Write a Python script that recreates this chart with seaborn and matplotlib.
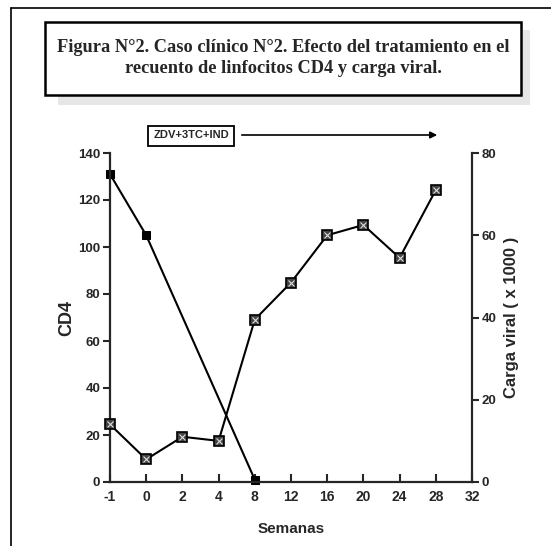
import numpy as np
import pandas as pd
import matplotlib.pyplot as plt
import seaborn as sns
from matplotlib.patches import Rectangle
from matplotlib.lines import Line2D

# datos
semanas = ['-1', '0', '2', '4', '8', '12', '16', '20', '24', '28', '32']
cd4 = [131, 105, np.nan, np.nan, 1, np.nan, np.nan, np.nan, np.nan, np.nan, np.nan]
carga_viral = [14, 5.5, 11, 10, 39.5, 48.5, 60, 62.5, 54.5, 71, np.nan]
cd4_ticks = [0, 20, 40, 60, 80, 100, 120, 140]
cv_ticks = [0, 20, 40, 60, 80]

df = pd.DataFrame({'pos': range(len(semanas)), 'semana': semanas,
                   'cd4': cd4, 'cv': carga_viral})

sns.set_style('ticks')
plt.rcParams['font.family'] = ['Liberation Sans Narrow', 'Liberation Sans', 'DejaVu Sans']
plt.rcParams['font.weight'] = 'bold'

fig = plt.figure(figsize=(5.51, 5.46), dpi=100)
ax = fig.add_axes([110/551, 1-482/546, 362/551, 329/546])
ax2 = ax.twinx()

d1 = df.dropna(subset=['cd4'])
sns.lineplot(data=d1, x='pos', y='cd4', ax=ax, color='black', lw=1.5,
             marker='s', markersize=6, markeredgecolor='black', clip_on=False)
d2 = df.dropna(subset=['cv'])
sns.lineplot(data=d2, x='pos', y='cv', ax=ax2, color='black', lw=1.5,
             marker='s', markersize=7.5, markerfacecolor='#444444',
             markeredgecolor='black', markeredgewidth=1.2, clip_on=False)
ax2.plot(d2['pos'], d2['cv'], ls='none', marker='x', markersize=5,
         color='#dddddd', markeredgewidth=0.8, clip_on=False)

ax.set_xlim(0, len(semanas) - 1)
ax.set_ylim(0, 140)
ax2.set_ylim(0, 80)
ax.set_xticks(range(len(semanas)))
ax.set_xticklabels(semanas)
ax.set_yticks(cd4_ticks)
ax2.set_yticks(cv_ticks)

for a in (ax, ax2):
    a.spines['top'].set_visible(False)
    for s in a.spines.values():
        s.set_linewidth(1.6)
ax.spines['right'].set_visible(False)
ax2.spines['left'].set_visible(False)
ax2.spines['bottom'].set_visible(False)

ax.tick_params(axis='x', direction='in', length=6, width=1.5, labelsize=10, pad=6)
ax.tick_params(axis='y', direction='out', length=5, width=1.5, labelsize=9.5, pad=2)
ax2.tick_params(axis='y', direction='out', length=5, width=1.5, labelsize=9.5, pad=2)

ax.set_xlabel('Semanas', fontsize=11, fontweight='bold', labelpad=13)
ax.set_ylabel('CD4', fontsize=13, fontweight='bold', labelpad=2)
ax2.set_ylabel('Carga viral ( x 1000 )', fontsize=12, fontweight='bold', labelpad=5)

# marco exterior
fig.add_artist(Line2D([11/551, 1], [1-8/546, 1-8/546], color='black', lw=1.2,
                      transform=fig.transFigure))
fig.add_artist(Line2D([11/551, 11/551], [0, 1-8/546], color='black', lw=1.2,
                      transform=fig.transFigure))

# caja del titulo con sombra
fig.add_artist(Rectangle((58/551, 1-105/546), 472/551, 75/546,
                         transform=fig.transFigure, facecolor='#e6e6e6',
                         edgecolor='none', hatch='....', zorder=1))
fig.add_artist(Rectangle((45/551, 1-95/546), 476/551, 73/546,
                         transform=fig.transFigure, facecolor='white',
                         edgecolor='black', lw=1.8, zorder=2))
fig.text(283/551, 1-58/546,
         'Figura N°2. Caso clínico N°2. Efecto del tratamiento en el\nrecuento de linfocitos CD4 y carga viral.',
         ha='center', va='center', fontsize=13.2, fontweight='bold',
         family=['Liberation Serif', 'DejaVu Serif'], linespacing=1.35, zorder=3)

# tratamiento
fig.text(191/551, 1-135.5/546, 'ZDV+3TC+IND', ha='center', va='center',
         fontsize=8, fontweight='bold',
         bbox=dict(boxstyle='square,pad=0.45', fc='white', ec='black', lw=1.3))
ax.annotate('', xy=(440/551, 1-135/546), xytext=(239/551, 1-135/546),
            xycoords='figure fraction', textcoords='figure fraction',
            arrowprops=dict(arrowstyle='-|>', color='black', lw=1.2, mutation_scale=10))

fig.savefig('out.png', dpi=100)
